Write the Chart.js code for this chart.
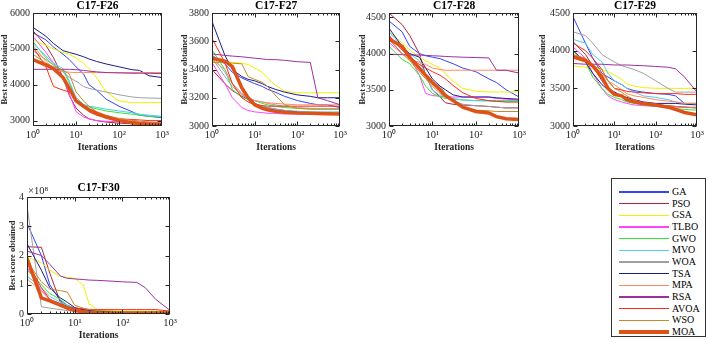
<!DOCTYPE html>
<html><head><meta charset="utf-8">
<script src="https://cdn.jsdelivr.net/npm/chart.js@4.4.1/dist/chart.umd.min.js"></script>
<style>
body{margin:0;width:708px;height:343px;position:relative;background:#fff;overflow:hidden;font-family:"Liberation Serif","Times New Roman",serif}
canvas{position:absolute}
#legend{position:absolute;left:611px;top:178px;width:95px;height:159px;border:1px solid #333;box-sizing:border-box;background:#fff}
#legend .row{position:absolute;left:0;width:93px;height:12px}
#legend .ln{position:absolute;left:7px;width:50px}
#legend .lb{position:absolute;left:60px;top:0;font-size:10px;line-height:12px;color:#000}
</style></head><body>
<canvas id="c26" width="172" height="160" style="left:0;top:0"></canvas>
<canvas id="c27" width="170" height="160" style="left:180px;top:0"></canvas>
<canvas id="c28" width="171" height="160" style="left:358px;top:0"></canvas>
<canvas id="c29" width="170" height="160" style="left:538px;top:0"></canvas>
<canvas id="c30" width="172" height="165" style="left:8px;top:178px"></canvas>
<div id="legend"></div>
<script>
// ---------- data ----------
const iters = [1,2,3,5,7,10,15,20,30,50,100,200,300,500,1000];
const methods = ['GA','PSO','GSA','TLBO','GWO','MVO','WOA','TSA','MPA','RSA','AVOA','WSO','MOA'];
const titles = ['C17-F26','C17-F27','C17-F28','C17-F29','C17-F30'];
const xTicks = [1,10,100,1000];
const f26Ticks = [3000,4000,5000,6000];
const f27Ticks = [3000,3200,3400,3600,3800];
const f28Ticks = [3000,3500,4000,4500];
const f29Ticks = [3000,3500,4000,4500];
const f30Ticks = [0,1,2,3,4]; // x 10^8

const f26 = [
 [5450,5250,5050,4850,4700,4500,4300,4000,3850,3600,3400,3250,3150,3120,3080],
 [5500,5100,4750,4200,3700,3350,3150,3050,3000,2960,2930,2910,2900,2900,2900],
 [5250,5100,5000,4900,4850,4750,4600,4450,4200,3800,3550,3500,3500,3500,3500],
 [5350,4900,4600,4200,3750,3250,3100,3050,3000,2980,2970,2960,2960,2950,2950],
 [5200,4750,4550,4400,4050,3600,3420,3380,3330,3270,3220,3180,3150,3120,3100],
 [5150,4800,4600,4450,4100,3650,3450,3400,3370,3320,3270,3220,3180,3150,3120],
 [4950,4700,4550,4350,4200,4100,3950,3900,3850,3800,3720,3660,3640,3630,3620],
 [5600,5350,5150,4950,4900,4850,4780,4720,4650,4580,4500,4420,4400,4250,4200],
 [5100,4650,4450,4370,4350,4340,4340,4340,4340,4340,4340,4340,4340,4340,4340],
 [4430,4430,4430,4430,4430,4420,4400,4380,4360,4340,4330,4320,4320,4320,4310],
 [5050,4500,3950,3850,3800,3600,3400,3250,3150,3080,3050,3030,3020,3000,3000],
 [4850,4600,4500,4400,4300,3800,3550,3400,3250,3150,3060,3010,2990,2960,2950],
 [4700,4550,4450,4200,3900,3550,3400,3300,3200,3100,3000,2950,2920,2900,2880]
];
const f27 = [
 [3500,3440,3380,3340,3320,3300,3280,3260,3240,3210,3180,3160,3150,3150,3130],
 [3400,3300,3250,3210,3190,3160,3140,3130,3120,3110,3100,3095,3090,3090,3090],
 [3460,3455,3450,3445,3435,3410,3380,3340,3290,3245,3235,3235,3235,3235,3235],
 [3450,3300,3200,3130,3110,3100,3095,3090,3090,3085,3085,3085,3085,3085,3085],
 [3540,3400,3260,3200,3190,3180,3160,3150,3140,3130,3125,3120,3120,3120,3120],
 [3500,3380,3300,3230,3180,3150,3140,3130,3120,3110,3105,3100,3100,3100,3100],
 [3480,3350,3280,3220,3200,3180,3170,3160,3150,3140,3130,3125,3120,3120,3120],
 [3740,3500,3400,3350,3330,3320,3300,3280,3260,3240,3220,3210,3200,3200,3200],
 [3470,3400,3300,3230,3200,3180,3170,3165,3160,3155,3150,3150,3150,3150,3150],
 [3510,3500,3495,3490,3485,3480,3475,3470,3470,3465,3455,3450,3200,3180,3150],
 [3620,3450,3300,3200,3170,3150,3145,3140,3140,3140,3140,3140,3140,3140,3140],
 [3450,3450,3445,3440,3350,3330,3310,3280,3220,3150,3125,3120,3120,3120,3120],
 [3480,3460,3420,3270,3200,3150,3125,3115,3105,3098,3092,3090,3088,3086,3085]
];
const f28 = [
 [4450,4300,4100,4000,3970,3950,3930,3900,3860,3800,3750,3650,3600,3500,3400],
 [4560,4400,4250,4000,3700,3500,3400,3320,3300,3290,3280,3270,3260,3250,3250],
 [4300,4150,4050,3950,3900,3850,3800,3720,3620,3520,3480,3470,3470,3470,3470],
 [4150,4000,3950,3700,3450,3420,3410,3405,3400,3400,3400,3400,3380,3370,3360],
 [4100,3920,3860,3700,3550,3450,3400,3380,3370,3360,3350,3350,3350,3350,3350],
 [4300,4100,4000,3900,3700,3500,3420,3400,3380,3360,3350,3345,3340,3340,3340],
 [4250,4050,3950,3800,3700,3600,3550,3450,3350,3300,3280,3270,3260,3250,3250],
 [4350,4100,4000,3950,3800,3650,3550,3500,3430,3400,3400,3400,3390,3380,3370],
 [4200,4000,3920,3880,3850,3800,3780,3770,3770,3770,3770,3770,3770,3770,3770],
 [3990,3985,3980,3980,3975,3970,3965,3960,3955,3950,3945,3940,3770,3770,3730],
 [4250,4050,3950,3850,3800,3750,3700,3650,3560,3460,3380,3350,3340,3330,3330],
 [4200,4000,3900,3750,3650,3550,3450,3400,3350,3270,3220,3210,3200,3200,3200],
 [4200,4100,3950,3800,3700,3600,3500,3420,3350,3260,3200,3180,3130,3100,3090]
];
const f29 = [
 [4450,4100,3900,3700,3650,3600,3550,3500,3470,3450,3430,3420,3400,3300,3300],
 [4120,3950,3800,3600,3500,3450,3400,3350,3320,3300,3280,3270,3260,3250,3240],
 [3800,3780,3760,3750,3720,3680,3620,3560,3530,3510,3500,3500,3500,3500,3500],
 [4050,3900,3700,3500,3400,3350,3320,3300,3280,3270,3260,3250,3250,3250,3240],
 [4000,3850,3650,3500,3420,3380,3350,3320,3300,3280,3260,3250,3230,3220,3210],
 [4150,4100,3950,3850,3700,3600,3550,3500,3450,3400,3380,3350,3320,3300,3300],
 [4250,4200,4100,3950,3900,3850,3800,3780,3750,3700,3600,3500,3450,3450,3450],
 [4000,3850,3700,3550,3480,3450,3400,3380,3350,3320,3300,3300,3300,3290,3280],
 [3900,3850,3800,3700,3600,3550,3480,3430,3400,3380,3350,3330,3320,3300,3300],
 [3830,3820,3820,3820,3815,3810,3810,3810,3805,3800,3790,3780,3760,3650,3450],
 [4100,4000,3900,3750,3600,3500,3480,3460,3450,3440,3430,3430,3430,3420,3420],
 [3950,3900,3800,3750,3600,3500,3450,3400,3350,3300,3280,3270,3260,3250,3250],
 [3920,3870,3800,3650,3500,3420,3400,3350,3320,3300,3280,3250,3220,3180,3150]
];
const f30 = [ // units of 10^8
 [3.1,2.0,1.0,0.45,0.3,0.2,0.15,0.12,0.1,0.08,0.06,0.05,0.05,0.05,0.05],
 [2.3,2.28,1.4,0.4,0.25,0.18,0.12,0.08,0.06,0.05,0.04,0.04,0.04,0.04,0.04],
 [1.95,1.75,1.5,1.28,1.25,1.22,1.0,0.35,0.15,0.12,0.1,0.1,0.1,0.1,0.1],
 [1.6,0.8,0.5,0.3,0.2,0.1,0.06,0.05,0.04,0.03,0.03,0.03,0.03,0.03,0.03],
 [1.5,1.0,0.7,0.5,0.3,0.15,0.1,0.08,0.06,0.05,0.05,0.05,0.05,0.05,0.05],
 [1.3,0.9,0.6,0.4,0.3,0.2,0.12,0.1,0.08,0.07,0.06,0.06,0.06,0.06,0.06],
 [3.7,0.25,0.2,0.15,0.12,0.1,0.08,0.07,0.06,0.05,0.05,0.05,0.05,0.05,0.05],
 [2.4,1.5,0.9,0.55,0.4,0.22,0.15,0.12,0.1,0.08,0.07,0.07,0.07,0.07,0.07],
 [1.2,0.8,0.5,0.3,0.2,0.12,0.08,0.06,0.05,0.04,0.04,0.04,0.04,0.04,0.04],
 [2.15,2.0,1.7,1.3,1.22,1.2,1.18,1.16,1.15,1.13,1.1,1.08,0.9,0.5,0.12],
 [1.8,0.9,0.5,0.35,0.25,0.2,0.18,0.16,0.15,0.15,0.15,0.15,0.15,0.15,0.1],
 [1.8,1.1,0.85,0.8,0.75,0.3,0.2,0.15,0.12,0.1,0.08,0.08,0.08,0.08,0.08],
 [1.9,0.55,0.45,0.3,0.2,0.12,0.08,0.05,0.03,0.02,0.02,0.02,0.02,0.02,0.02]
];

// ---------- styles ----------
const colors = ['#3344ff','#b0243c','#f0f000','#ff44ff','#33e633','#55c8f0','#a0a0a0','#1c1c8a','#ff8a60','#9b30a0','#ff2a1a','#c88a28','#dd5218'];
const widths = [1,1,1,1,1,1,1,1,1,1,1,1,3.5];
const FONT = '"Liberation Serif","Times New Roman",serif';
const INK = '#262626';
const sup = {1:'10\u2070',10:'10\u00b9',100:'10\u00b2',1000:'10\u00b3'};

const framePlugin = {
  id:'frame',
  afterDatasetsDraw(chart, args, opts){
    const {ctx, chartArea:a, scales} = chart;
    ctx.save();
    ctx.strokeStyle = INK; ctx.lineWidth = 1;
    const l = Math.round(a.left)+0.5, t = Math.round(a.top)+0.5, r = Math.round(a.right)-0.5, b = Math.round(a.bottom)-0.5;
    ctx.strokeRect(l, t, r-l, b-t);
    ctx.beginPath();
    // major + minor log ticks on x (bottom and top)
    for (let d = 1; d < 1000; d *= 10){
      for (let m = 1; m <= 9; m++){
        const v = d*m;
        const len = m === 1 ? 4 : 2;
        const px = Math.round(scales.x.getPixelForValue(v))+0.5;
        ctx.moveTo(px,b); ctx.lineTo(px,b-len);
        ctx.moveTo(px,t); ctx.lineTo(px,t+len);
      }
    }
    scales.y.ticks.forEach(tk=>{
      const py = Math.round(scales.y.getPixelForValue(tk.value))+0.5;
      ctx.moveTo(l,py); ctx.lineTo(l+4,py);
      ctx.moveTo(r,py); ctx.lineTo(r-4,py);
    });
    ctx.stroke();
    if (opts && opts.exp){
      ctx.fillStyle = INK; ctx.font = '10.5px '+FONT; ctx.textAlign='left'; ctx.textBaseline='bottom';
      ctx.fillText(opts.exp, a.left+1, a.top-1);
    }
    ctx.restore();
  }
};

function make(id, title, series, yMin, yMax, yTicks, yW, pad, titlePadBottom, exp){
  const datasets = series.map((vals,i)=>({
    label: methods[i],
    data: iters.map((x,j)=>({x:x, y:vals[j]})),
    borderColor: colors[i],
    backgroundColor: colors[i],
    borderWidth: widths[i],
    pointRadius: 0,
    tension: 0,
    fill: false,
    order: methods.length - i
  }));
  new Chart(document.getElementById(id), {
    type:'line',
    data:{datasets},
    plugins:[framePlugin],
    options:{
      responsive:false, animation:false, devicePixelRatio:1,
      layout:{padding:pad},
      plugins:{
        legend:{display:false}, tooltip:{enabled:false},
        title:{display:true, text:title, fullSize:false, color:'#000',
               font:{family:FONT, size:11.5, weight:'bold', lineHeight:1},
               padding:{top:0,bottom:titlePadBottom}},
        frame:{exp: exp||''}
      },
      scales:{
        x:{type:'logarithmic', min:1, max:1000,
           afterBuildTicks:s=>{ s.ticks = xTicks.map(v=>({value:v})); },
           afterFit:s=>{ s.height = 27; },
           grid:{display:false, drawTicks:false}, border:{display:false},
           ticks:{autoSkip:false, maxRotation:0, padding:3, color:INK,
                  font:{family:FONT, size:10.5}, callback:v=>sup[v]||''},
           title:{display:true, text:'Iterations', color:INK, padding:0,
                  font:{family:FONT, size:9.5, weight:'bold', lineHeight:1.2}}},
        y:{type:'linear', min:yMin, max:yMax,
           afterBuildTicks:s=>{ s.ticks = yTicks.map(v=>({value:v})); },
           afterFit:s=>{ s.width = yW; },
           grid:{display:false, drawTicks:false}, border:{display:false},
           ticks:{padding:3, color:INK, font:{family:FONT, size:10}, callback:v=>String(v)},
           title:{display:true, text:'Best score obtained', color:INK, padding:0,
                  font:{family:FONT, size:8.5, weight:'bold', lineHeight:1.2}}}
      }
    }
  });
}

make('c26', titles[0], f26, 2850, 6000, f26Ticks, 33, {left:0,top:0,right:10,bottom:7}, 1.5);
make('c27', titles[1], f27, 3000, 3800, f27Ticks, 32, {left:0,top:0,right:9,bottom:7}, 1.5);
make('c28', titles[2], f28, 3000, 4560, f28Ticks, 31, {left:0,top:0,right:9,bottom:7}, 1.5);
make('c29', titles[3], f29, 3000, 4500, f29Ticks, 35, {left:0,top:0,right:11,bottom:7}, 1.5);
make('c30', titles[4], f30, 0, 4, f30Ticks, 19, {left:0,top:4,right:9,bottom:2}, 3.5, '\u00d710\u2078');

// ---------- legend ----------
const leg = document.getElementById('legend');
methods.forEach((m,i)=>{
  const row = document.createElement('div');
  row.className = 'row';
  row.style.top = (7 + i*11.67) + 'px';
  const ln = document.createElement('span');
  ln.className = 'ln';
  const w = i === methods.length-1 ? 3.5 : 1.5;
  ln.style.height = w + 'px';
  ln.style.top = (6 - w/2) + 'px';
  ln.style.background = colors[i];
  const lb = document.createElement('span');
  lb.className = 'lb';
  lb.textContent = m;
  row.appendChild(ln); row.appendChild(lb);
  leg.appendChild(row);
});
</script>
</body></html>
